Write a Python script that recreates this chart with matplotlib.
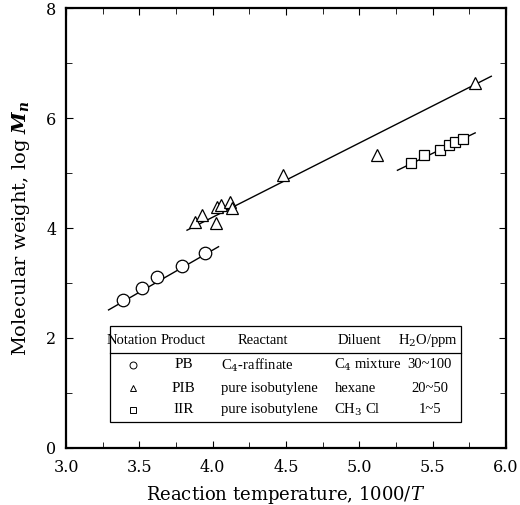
import matplotlib.pyplot as plt
from matplotlib.patches import Rectangle

plt.rcParams['font.family'] = ['Liberation Serif', 'DejaVu Serif']
plt.rcParams['mathtext.fontset'] = 'dejavuserif'

# Data
pb_x = [3.39, 3.52, 3.62, 3.79, 3.95]
pb_y = [2.69, 2.91, 3.11, 3.31, 3.55]
pb_fit_x = [3.29, 4.04]
pb_fit_y = [2.51, 3.66]

pib_x = [3.88, 3.93, 4.02, 4.03, 4.06, 4.12, 4.13, 4.48, 5.12, 5.79]
pib_y = [4.11, 4.24, 4.10, 4.38, 4.42, 4.47, 4.36, 4.97, 5.33, 6.63]
pib_fit_x = [3.825, 5.90]
pib_fit_y = [3.96, 6.76]

iir_x = [5.35, 5.44, 5.55, 5.61, 5.65, 5.71]
iir_y = [5.19, 5.32, 5.42, 5.51, 5.56, 5.62]
iir_fit_x = [5.26, 5.79]
iir_fit_y = [5.05, 5.73]

# table contents
headers = ['Notation', 'Product', 'Reactant', 'Diluent', 'H$_2$O/ppm']
products = ['PB', 'PIB', 'IIR']
reactants = ['C$_4$-raffinate', 'pure isobutylene', 'pure isobutylene']
diluents = ['C$_4$ mixture', 'hexane', 'CH$_3$ Cl']
water = ['30~100', '20~50', '1~5']
symbols = ['o', '^', 's']

fig = plt.figure(figsize=(5.2, 5.05), dpi=100)
ax = fig.add_axes([0.127, 0.113, 0.846, 0.871])

mk = dict(mfc='white', mec='black', mew=0.9, ls='none', zorder=3)
ax.plot(pb_x, pb_y, marker='o', ms=9, **mk)
ax.plot(pib_x, pib_y, marker='^', ms=8.5, **mk)
ax.plot(iir_x, iir_y, marker='s', ms=7, **mk)
ax.plot(pb_fit_x, pb_fit_y, color='black', lw=1.0)
ax.plot(pib_fit_x, pib_fit_y, color='black', lw=1.0)
ax.plot(iir_fit_x, iir_fit_y, color='black', lw=1.0)

ax.set_xlim(3.0, 6.0)
ax.set_ylim(0, 8)
ax.set_xticks([3.0, 3.5, 4.0, 4.5, 5.0, 5.5, 6.0])
ax.set_xticks([3.25, 3.75, 4.25, 4.75, 5.25, 5.75], minor=True)
ax.set_yticks([0, 2, 4, 6, 8])
ax.set_yticks([1, 3, 5, 7], minor=True)
ax.tick_params(direction='in', which='both', top=True, right=True)
ax.tick_params(which='major', length=5)
ax.tick_params(which='minor', length=4)
ax.tick_params(axis='x', pad=8)
ax.tick_params(axis='y', pad=7)
for lab in ax.get_xticklabels() + ax.get_yticklabels():
    lab.set_family('DejaVu Serif')
    lab.set_fontsize(11.5)
for s in ax.spines.values():
    s.set_linewidth(1.6)

ax.set_xlabel('Reaction temperature, 1000/$T$', fontsize=13, labelpad=6,
              family='DejaVu Serif')
ax.set_ylabel('Molecular weight, log $\\boldsymbol{M}_{\\boldsymbol{n}}$', fontsize=14,
              labelpad=10, family='DejaVu Serif')

# legend table
ax.add_patch(Rectangle((3.30, 0.47), 2.39, 1.75, fill=False, lw=0.9, zorder=4))
ax.plot([3.30, 5.69], [1.73, 1.73], color='black', lw=0.9, zorder=4)
fs = 10.5
hx = [3.45, 3.80, 4.34, 5.0, 5.47]
for xx, h in zip(hx, headers):
    ax.text(xx, 1.96, h, ha='center', va='center', fontsize=fs)
row_y = [1.51, 1.09, 0.69]
for i in range(3):
    ax.plot([3.46], [row_y[i]], marker=symbols[i], ms=5, mfc='white', mec='black', mew=0.7)
    ax.text(3.80, row_y[i], products[i], ha='center', va='center', fontsize=fs + 0.5)
    ax.text(4.06, row_y[i], reactants[i], ha='left', va='center', fontsize=fs)
    ax.text(4.83, row_y[i], diluents[i], ha='left', va='center', fontsize=fs)
    ax.text(5.48, row_y[i], water[i], ha='center', va='center', fontsize=fs)

fig.savefig('out.png', dpi=100)
